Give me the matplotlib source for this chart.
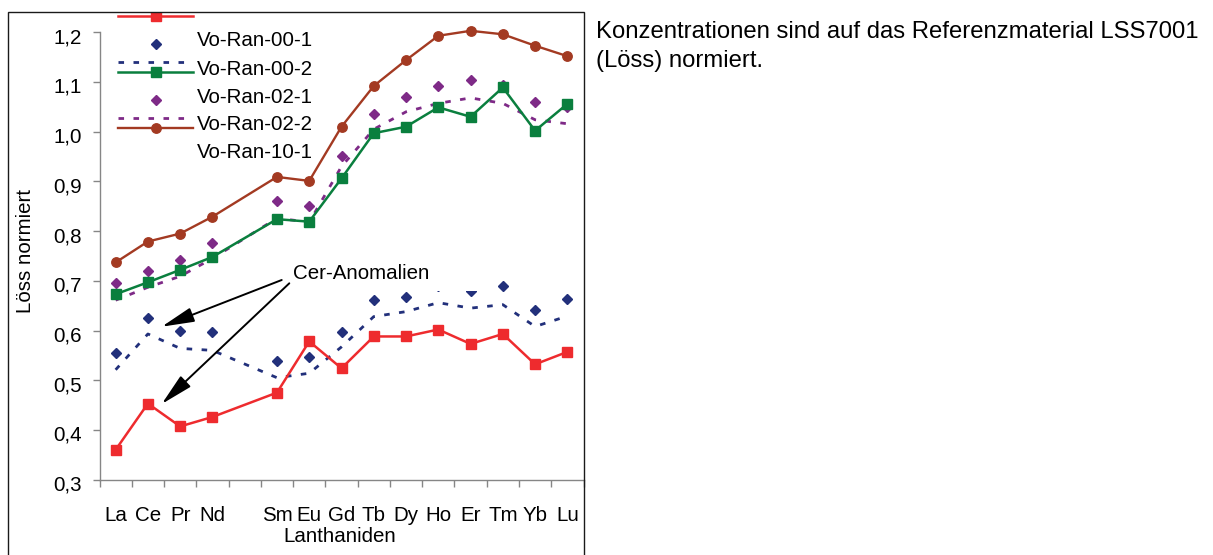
import numpy as np
import matplotlib
matplotlib.use("Agg")
import matplotlib.pyplot as plt
from matplotlib.lines import Line2D
from matplotlib.patches import Rectangle
from matplotlib.transforms import ScaledTranslation

plt.rcParams['font.family'] = ['Liberation Sans', 'DejaVu Sans']

# Lanthanides (Pm left empty)
elements = ["La", "Ce", "Pr", "Nd", "", "Sm", "Eu", "Gd", "Tb", "Dy", "Ho", "Er", "Tm", "Yb", "Lu"]
nan = np.nan

red_squares = [0.360, 0.453, 0.407, 0.426, nan, 0.475, 0.578, 0.524, 0.588, 0.588, 0.602, 0.573, 0.593, 0.532, 0.557]
navy_diamonds = [0.554, 0.626, 0.600, 0.596, nan, 0.539, 0.546, 0.596, 0.661, 0.668, 0.690, 0.680, 0.690, 0.641, 0.663]
navy_dashed = [0.521, 0.593, 0.564, 0.560, nan, 0.505, 0.514, 0.567, 0.628, 0.638, 0.656, 0.645, 0.652, 0.608, 0.629]
green_squares = [0.673, 0.697, 0.722, 0.748, nan, 0.824, 0.819, 0.906, 0.997, 1.010, 1.049, 1.030, 1.089, 1.002, 1.056]
purple_diamonds = [0.695, 0.720, 0.742, 0.777, nan, 0.861, 0.851, 0.951, 1.035, 1.070, 1.091, 1.104, 1.094, 1.060, 1.049]
purple_dashed = [0.661, 0.687, 0.709, 0.745, nan, 0.826, 0.818, 0.930, 1.005, 1.040, 1.057, 1.068, 1.057, 1.024, 1.016]
brown_circles = [0.737, 0.779, 0.795, 0.829, nan, 0.909, 0.901, 1.010, 1.092, 1.144, 1.193, 1.203, 1.196, 1.173, 1.152]

legend_labels = ["Vo-Ran-00-1", "Vo-Ran-00-2", "Vo-Ran-02-1", "Vo-Ran-02-2", "Vo-Ran-10-1"]
y_ticks = [0.3, 0.4, 0.5, 0.6, 0.7, 0.8, 0.9, 1.0, 1.1, 1.2]
y_tick_labels = ["0,3", "0,4", "0,5", "0,6", "0,7", "0,8", "0,9", "1,0", "1,1", "1,2"]

RED = "#EE2B2E"
NAVY = "#22307B"
GREEN = "#0A7F3E"
PURPLE = "#7E2A87"
BROWN = "#A33A22"
GRAY = "#868686"
FS = 14.8

W, H = 1213, 555
fig = plt.figure(figsize=(W / 100, H / 100), dpi=100)


def fx(px):
    return px / W


def fy(py):
    return 1 - py / H


ax = fig.add_axes([fx(99.5), fy(479.6), (583.5 - 99.5) / W, (479.6 - 32.3) / H])
pos = np.arange(len(elements)) + 0.5

styles = {
    "brown": dict(color=BROWN, lw=1.7, marker="o", ms=6.8),
    "pdash": dict(color=PURPLE, lw=2.0, ls=(0, (2.0, 3.4))),
    "pdia": dict(color=PURPLE, ls="none", marker="D", ms=5.2),
    "green": dict(color=GREEN, lw=1.8, marker="s", ms=7.3),
    "ndash": dict(color=NAVY, lw=2.0, ls=(0, (2.0, 3.4))),
    "ndia": dict(color=NAVY, ls="none", marker="D", ms=5.2),
    "red": dict(color=RED, lw=1.8, marker="s", ms=7.3),
}


def plot_series(vals, style):
    v = np.asarray(vals, dtype=float)
    m = ~np.isnan(v)
    ax.plot(pos[m], v[m], clip_on=False, zorder=3, **style)


plot_series(brown_circles, styles["brown"])
plot_series(purple_dashed, styles["pdash"])
plot_series(purple_diamonds, styles["pdia"])
plot_series(green_squares, styles["green"])
plot_series(navy_dashed, styles["ndash"])
plot_series(navy_diamonds, styles["ndia"])
plot_series(red_squares, styles["red"])

ax.set_xlim(0, len(elements))
ax.set_ylim(0.3, 1.2)
ax.set_xticks(np.arange(len(elements) + 1))
ax.set_xticklabels([])
ax.set_xticks(pos, minor=True)
ax.set_xticklabels(elements, minor=True)
ax.tick_params(axis="x", which="major", length=5, width=1, color=GRAY, direction="out")
ax.tick_params(axis="x", which="minor", length=0, pad=19, labelsize=FS)
ax.set_yticks(y_ticks)
ax.set_yticklabels(y_tick_labels)
ax.tick_params(axis="y", length=4.8, width=1, color=GRAY, pad=7.9, labelsize=FS)
shift_down = ScaledTranslation(0, -2.5 / 72, fig.dpi_scale_trans)
for lab in ax.get_yticklabels():
    lab.set_transform(lab.get_transform() + shift_down)
for s in ("top", "right"):
    ax.spines[s].set_visible(False)
for s in ("left", "bottom"):
    ax.spines[s].set_color(GRAY)
    ax.spines[s].set_linewidth(1.0)

# axis titles
fig.text(fx(25.5), fy(250.8), "Löss normiert", rotation=90, ha="center", va="center", fontsize=FS)
fig.text(fx(340), fy(541.5), "Lanthaniden", ha="center", va="baseline", fontsize=FS)

# annotation with white backing box
ax.add_patch(Rectangle((fx(286), fy(290.7)), fx(485) - fx(286), (290.7 - 258) / H,
                       transform=fig.transFigure, facecolor="white", edgecolor="none", zorder=6))
ax.text(fx(293.3), fy(279.3), "Cer-Anomalien", transform=fig.transFigure, ha="left",
        va="baseline", fontsize=FS, zorder=7)
arrow_kw = dict(arrowstyle="-|>,head_length=2.0,head_width=0.45", mutation_scale=10,
                lw=1.4, color="black", shrinkA=0, shrinkB=0)
ax.annotate("", xy=(161.7, H - 326.7), xycoords="figure pixels",
            xytext=(281.7, H - 280), textcoords="figure pixels", arrowprops=arrow_kw, zorder=8)
ax.annotate("", xy=(161.7, H - 404), xycoords="figure pixels",
            xytext=(289.3, H - 283.3), textcoords="figure pixels", arrowprops=arrow_kw, zorder=8)

# legend
handle_rows = [
    (16, "red"), (44, "ndia"), (62, "ndash"), (72, "green"),
    (100, "pdia"), (118, "pdash"), (128, "brown"),
]
for ypx, key in handle_rows:
    st = dict(styles[key])
    marker = st.pop("marker", None)
    ms = st.pop("ms", None)
    ls = st.get("ls", "-")
    if ls != "none":
        fig.add_artist(Line2D([fx(118), fx(193)], [fy(ypx), fy(ypx)], transform=fig.transFigure,
                              zorder=4, **st))
    if marker is not None:
        fig.add_artist(Line2D([fx(155.5)], [fy(ypx)], transform=fig.transFigure, ls="none",
                              marker=marker, ms=ms, color=st["color"], zorder=4))
for ypx, lab in zip([46.3, 74.7, 103, 130.5, 158], legend_labels):
    fig.text(fx(196.5), fy(ypx), lab, ha="left", va="baseline", fontsize=FS)

# side note
fig.text(fx(596), fy(38), "Konzentrationen sind auf das Referenzmaterial LSS7001",
         ha="left", va="baseline", fontsize=17.2)
fig.text(fx(596), fy(67.5), "(Löss) normiert.", ha="left", va="baseline", fontsize=17.2)

# chart frame
fig.add_artist(Rectangle((0, fy(11.5)), fx(590), 11.5 / H, transform=fig.transFigure,
                         facecolor="white", edgecolor="none", zorder=20))
fig.add_artist(Rectangle((fx(7.5), -0.05), fx(583.5) - fx(7.5), fy(12) + 0.05,
                         transform=fig.transFigure, fill=False, lw=1.0, edgecolor="#1a1a1a", zorder=21))

fig.savefig("out.png", dpi=100)
